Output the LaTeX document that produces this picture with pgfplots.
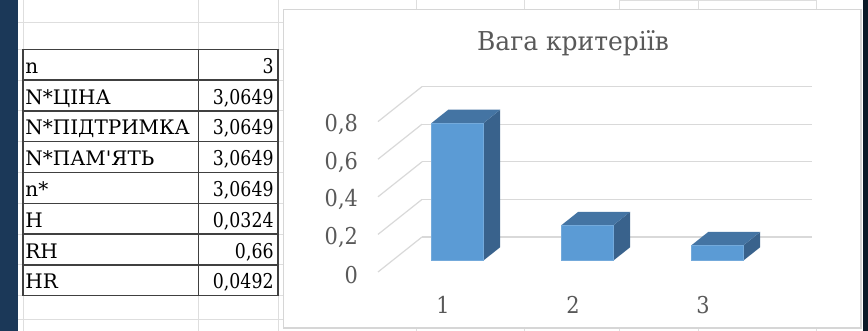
\documentclass[border=0pt]{standalone}
\usepackage{pgfplots}
\pgfplotsset{compat=1.18}
\usepackage{fontspec}
\setmainfont{DejaVu Serif}
\newfontfamily\tnr{DejaVu Serif}
\newfontfamily\tnrc{DejaVu Serif}[FakeStretch=0.85]
\newfontfamily\tnrt{DejaVu Serif}[FakeStretch=0.9]
\newfontfamily\tnrh{DejaVu Serif}[FakeStretch=0.96]
\definecolor{navy}{RGB}{27,56,88}
\definecolor{darknavy}{RGB}{12,26,40}
\definecolor{sheetgrid}{RGB}{222,222,222}
\definecolor{chartborder}{RGB}{214,214,214}
\definecolor{gridgray}{RGB}{217,217,217}
\definecolor{txtgray}{RGB}{89,89,89}
\definecolor{tabline}{RGB}{64,64,64}
\definecolor{barfront}{RGB}{91,155,213}
\definecolor{bartop}{RGB}{68,116,163}
\definecolor{barside}{RGB}{57,98,140}
\begin{document}
\begin{tikzpicture}[font=\tnr]
\begin{scope}[x=0.5pt,y=-0.5pt]
  \useasboundingbox (0,0) rectangle (868,331);
  \fill[white] (0,0) rectangle (868,331);
  % spreadsheet grid
  \begin{scope}[sheetgrid, line width=0.5pt]
    \foreach \yy in {23,49.3,80.1,110.9,141.7,172.5,203.3,234.1,264.9,295.7,320}
      \draw (18,\yy) -- (283,\yy);
    \foreach \xx in {23,198.5,278}
      \draw (\xx,0) -- (\xx,331);
    \foreach \xx in {416,524,619,698,816}
      { \draw (\xx,0) -- (\xx,10); \draw (\xx,328) -- (\xx,331); }
    \draw (619,0.7) -- (816,0.7);
  \end{scope}
  \fill[navy] (0,0) rectangle (18,331);
  \fill[darknavy] (863,0) rectangle (868,331);
  % chart area
  \draw[chartborder, line width=0.6pt, fill=white] (283.5,9.5) rectangle (861,328);
  % table
  \begin{scope}[tabline, line width=0.7pt]
    \foreach \yy in {49.3,80.1,110.9,141.7,172.5,203.3,234.1,264.9,295.7}
      \draw (23,\yy) -- (278,\yy);
    \foreach \xx in {23,198.5,278}
      \draw (\xx,49.3) -- (\xx,295.7);
  \end{scope}
  \begin{scope}[every node/.style={inner sep=0pt, text=black}]
    \foreach \lab/\val [count=\i from 0] in {n/3, N*ЦІНА/{3,0649}, N*ПІДТРИМКА/{3,0649}, N*ПАМ\textquotesingle ЯТЬ/{3,0649}, n*/{3,0649}, H/{0,0324}, RH/{0,66}, HR/{0,0492}}
    {
      \node[anchor=base west, font=\tnr\fontsize{10}{10}\selectfont] at (25,{49.3+24+30.8*\i}) {\lab};
      \node[anchor=base east, font=\tnrc\fontsize{10.2}{10.2}\selectfont] at (274,{49.3+24+30.8*\i}) {\val};
    }
  \end{scope}
  % title
  \node[anchor=base, inner sep=0pt, text=txtgray, font=\tnrh\fontsize{13}{13}\selectfont] at (573,51) {Вага критеріїв};
\end{scope}
\begin{axis}[
  at={(189pt,-136pt)}, anchor=south west,
  x={(65pt,0pt)}, y={(22pt,17.5pt)}, z={(0pt,94pt)},
  xmin=0.5, xmax=3.5, ymin=0, ymax=1, zmin=0, zmax=0.8,
  axis line style={draw=none},
  major tick length=0pt,
  xtick={1,2,3}, ytick=\empty, ztick={0,0.2,0.4,0.6,0.8},
  zmajorgrids, grid style={line width=0.6pt, color=gridgray},
  clip=false,
  ticklabel style={font=\tnrt\fontsize{11.6}{11.6}\selectfont, text=txtgray},
  xticklabel style={anchor=north, yshift=-8.5pt},
  zticklabel style={anchor=east, xshift=-6.5pt, yshift=-1.5pt},
  /pgf/number format/.cd, use comma, fixed, assume math mode=true,
]
% bar 1
\addplot3[fill=barside, draw=none, mark=none] coordinates {(1.2,0.32,0) (1.2,0.71,0) (1.2,0.71,0.731) (1.2,0.32,0.731)};
\addplot3[fill=bartop, draw=none, mark=none] coordinates {(0.8,0.32,0.731) (1.2,0.32,0.731) (1.2,0.71,0.731) (0.8,0.71,0.731)};
\addplot3[fill=barfront, draw=barfront!85!white, line width=0.4pt, mark=none] coordinates {(0.8,0.32,0) (1.2,0.32,0) (1.2,0.32,0.731) (0.8,0.32,0.731) (0.8,0.32,0)};
% bar 2
\addplot3[fill=barside, draw=none, mark=none] coordinates {(2.2,0.32,0) (2.2,0.71,0) (2.2,0.71,0.188) (2.2,0.32,0.188)};
\addplot3[fill=bartop, draw=none, mark=none] coordinates {(1.8,0.32,0.188) (2.2,0.32,0.188) (2.2,0.71,0.188) (1.8,0.71,0.188)};
\addplot3[fill=barfront, draw=barfront!85!white, line width=0.4pt, mark=none] coordinates {(1.8,0.32,0) (2.2,0.32,0) (2.2,0.32,0.188) (1.8,0.32,0.188) (1.8,0.32,0)};
% bar 3
\addplot3[fill=barside, draw=none, mark=none] coordinates {(3.2,0.32,0) (3.2,0.71,0) (3.2,0.71,0.081) (3.2,0.32,0.081)};
\addplot3[fill=bartop, draw=none, mark=none] coordinates {(2.8,0.32,0.081) (3.2,0.32,0.081) (3.2,0.71,0.081) (2.8,0.71,0.081)};
\addplot3[fill=barfront, draw=barfront!85!white, line width=0.4pt, mark=none] coordinates {(2.8,0.32,0) (3.2,0.32,0) (3.2,0.32,0.081) (2.8,0.32,0.081) (2.8,0.32,0)};
\end{axis}
\end{tikzpicture}
\end{document}
